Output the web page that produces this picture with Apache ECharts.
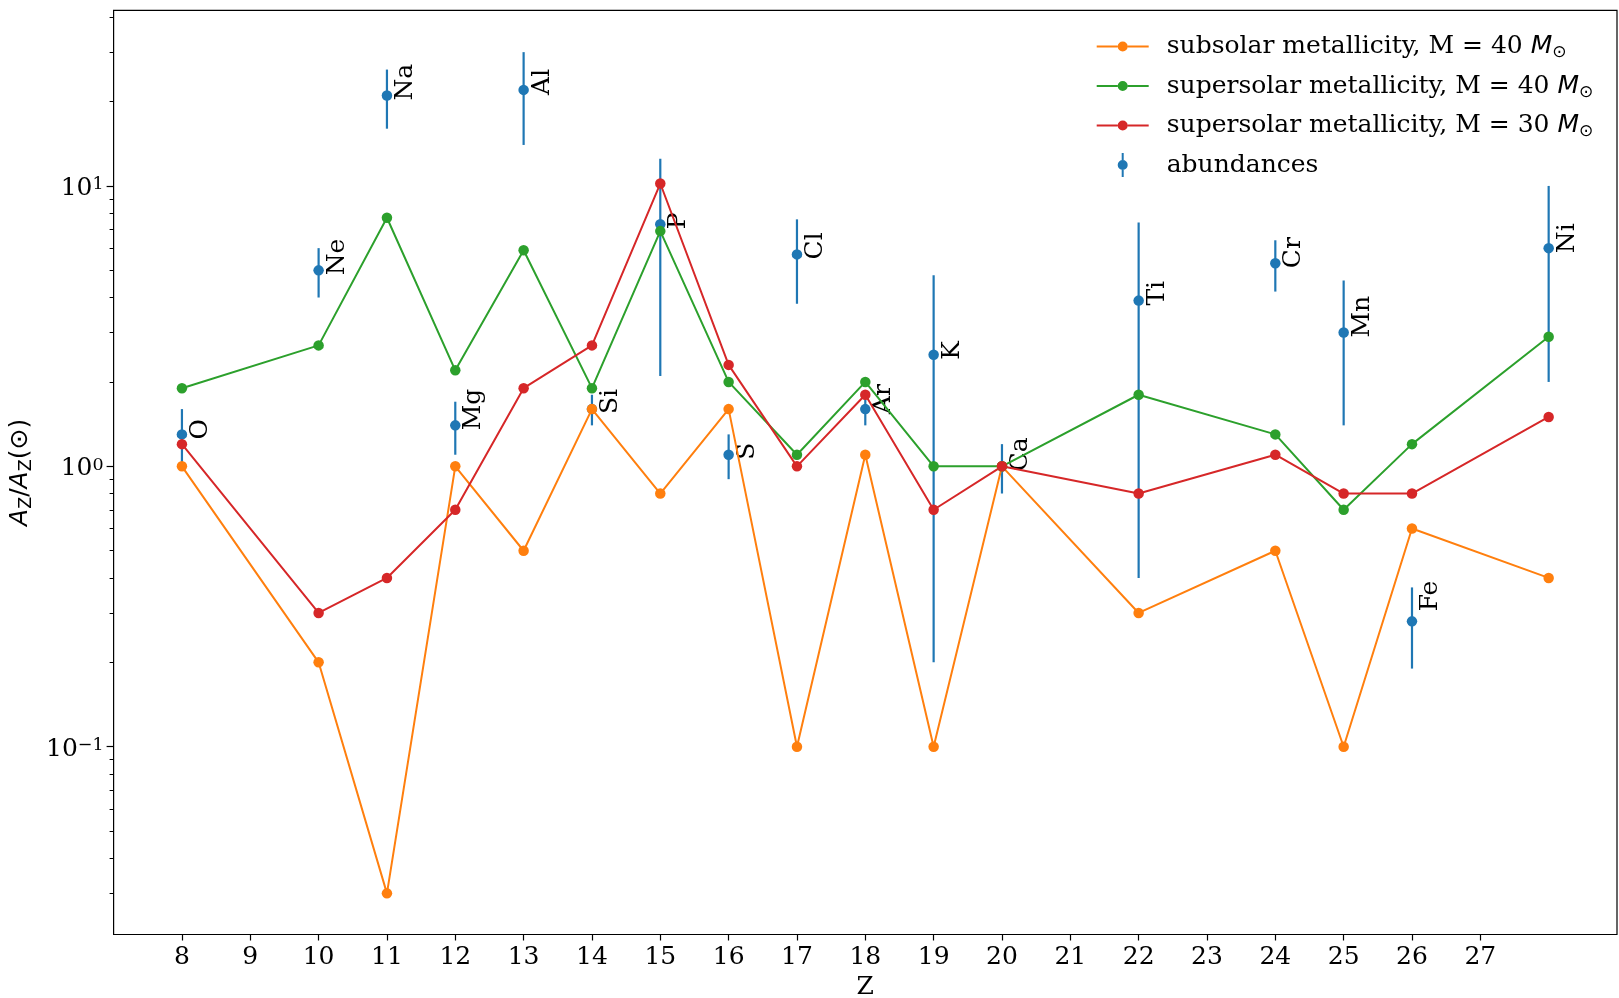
<!DOCTYPE html>
<html><head><meta charset="utf-8">
<script src="https://cdn.jsdelivr.net/npm/echarts@6/dist/echarts.min.js"></script>
<style>html,body{margin:0;padding:0;background:#fff}#c{width:1619px;height:998px}</style>
</head><body><div id="c"></div>
<script>
// ---- data ----
const Z = [8, 10, 11, 12, 13, 14, 15, 16, 17, 18, 19, 20, 22, 24, 25, 26, 28];
const elements = ['O','Ne','Na','Mg','Al','Si','P','S','Cl','Ar','K','Ca','Ti','Cr','Mn','Fe','Ni'];
const subsolar40   = [1.0, 0.2, 0.03, 1.0, 0.5, 1.6, 0.8, 1.6, 0.1, 1.1, 0.1, 1.0, 0.3, 0.5, 0.1, 0.6, 0.4];
const supersolar40 = [1.9, 2.7, 7.7, 2.2, 5.9, 1.9, 6.9, 2.0, 1.1, 2.0, 1.0, 1.0, 1.8, 1.3, 0.7, 1.2, 2.9];
const supersolar30 = [1.2, 0.3, 0.4, 0.7, 1.9, 2.7, 10.2, 2.3, 1.0, 1.8, 0.7, 1.0, 0.8, 1.1, 0.8, 0.8, 1.5];
const abundance    = [1.3, 5.0, 21, 1.4, 22, 1.6, 7.3, 1.1, 5.7, 1.6, 2.5, 1.0, 3.9, 5.3, 3.0, 0.28, 6.0];
const abundanceErr = [0.3, 1.0, 5, 0.3, 8, 0.2, 5.2, 0.2, 1.9, 0.2, 2.3, 0.2, 3.5, 1.1, 1.6, 0.09, 4.0];
const xTickLabels = [8,9,10,11,12,13,14,15,16,17,18,19,20,21,22,23,24,25,26,27];
const yMajorTicks = [0.1, 1, 10];
const yMajorExp = {'0.1': '\u22121', '1': '0', '10': '1'};
const yMinorTicks = [0.03,0.04,0.05,0.06,0.07,0.08,0.09,0.2,0.3,0.4,0.5,0.6,0.7,0.8,0.9,2,3,4,5,6,7,8,9,20,30,40];
const seriesNames = ['subsolar metallicity, M = 40 ', 'supersolar metallicity, M = 40 ', 'supersolar metallicity, M = 30 ', 'abundances'];

// ---- styles ----
const serif = '"DejaVu Serif"';
const sans = '"DejaVu Sans"';
const FS = 25;
const C = {blue:'#1f77b4', orange:'#ff7f0e', green:'#2ca02c', red:'#d62728'};
const YMIN = 0.0214, YMAX = 42.3;
const labelShiftY = {Fe: -15};   // pixel nudge of the Fe label, as in the original

function pairs(arr){ return Z.map((z,i)=>[z, arr[i]]); }

const lineIcon = 'path://M0,4L21,4L21,6L0,6Z M31,4L52,4L52,6L31,6Z M21,5a5,5 0 1,1 10,0a5,5 0 1,1 -10,0Z';
const errIcon  = 'path://M4,0L6,0L6,7L4,7Z M4,17L6,17L6,24L4,24Z M0,12a5,5 0 1,1 10,0a5,5 0 1,1 -10,0Z';

function lineSeries(name, arr, color){
  return {
    type:'line', name: name, data: pairs(arr), xAxisIndex:0, yAxisIndex:0,
    symbol:'circle', symbolSize:10.5, showSymbol:true, showAllSymbol:true,
    itemStyle:{color: color}, lineStyle:{color: color, width:2},
    emphasis:{disabled:true}, animation:false
  };
}

const chart = echarts.init(document.getElementById('c'), null, {renderer:'canvas'});
chart.setOption({
  animation:false,
  backgroundColor:'#fff',
  grid:{left:113.6, right:2, top:10.3, bottom:63.5, outerBoundsMode:'none', containLabel:false,
        show:true, borderColor:'#000', borderWidth:1.2, backgroundColor:'transparent'},
  legend:{
    orient:'vertical', left:1096.7, top:34, padding:0, itemWidth:52, itemHeight:24, itemGap:12,
    selectedMode:false,
    data:[
      {name: seriesNames[0], icon: lineIcon},
      {name: seriesNames[1], icon: lineIcon},
      {name: seriesNames[2], icon: lineIcon},
      {name: seriesNames[3], icon: errIcon}
    ],
    formatter: function(name){
      if (name === 'abundances') return '{t|abundances}';
      return '{t|' + name + '}{m|M}{o|\u2299}';
    },
    textStyle:{
      color:'#000', fontFamily: serif, fontSize:FS, padding:[0,0,0,13],
      rich:{
        t:{fontFamily: serif, fontSize:FS, lineHeight:30, color:'#000'},
        m:{fontFamily: sans, fontStyle:'italic', fontSize:FS, lineHeight:30, color:'#000'},
        o:{fontFamily: sans, fontSize:17, lineHeight:16, verticalAlign:'bottom', color:'#000'}
      }
    }
  },
  xAxis:{
    type:'value', min:7, max:29,
    name:'Z', nameLocation:'middle', nameGap:40,
    nameTextStyle:{fontFamily: serif, fontSize:FS, color:'#000'},
    axisLine:{show:false},
    axisTick:{show:true, customValues: xTickLabels, length:6, lineStyle:{color:'#000', width:1.2}},
    axisLabel:{show:true, customValues: xTickLabels, margin:10, fontFamily: serif, fontSize:FS, color:'#000', formatter: v => String(v)},
    splitLine:{show:false}
  },
  yAxis:[
    {
      type:'log', logBase:10, min:YMIN, max:YMAX, position:'left',
      name:'{i|A}{s|Z}{n|/}{i|A}{s|Z}{n|(\u2299)}', nameLocation:'middle', nameRotate:90, nameGap:74,
      nameTextStyle:{
        color:'#000',
        rich:{
          i:{fontFamily: sans, fontStyle:'italic', fontSize:FS, lineHeight:30, color:'#000'},
          s:{fontFamily: sans, fontSize:17.5, lineHeight:17, verticalAlign:'bottom', color:'#000'},
          n:{fontFamily: sans, fontSize:FS, lineHeight:30, color:'#000'}
        }
      },
      axisLine:{show:false},
      axisTick:{show:true, customValues: yMajorTicks, length:7, lineStyle:{color:'#000', width:1.2}},
      axisLabel:{
        show:true, customValues: yMajorTicks, margin:10, padding:[5,0,0,0],
        formatter: function(v){ const k = String(v); return '{b|10}{p|' + (yMajorExp[k] !== undefined ? yMajorExp[k] : '') + '}'; },
        rich:{
          b:{fontFamily: serif, fontSize:FS, lineHeight:25, color:'#000'},
          p:{fontFamily: serif, fontSize:17.5, lineHeight:17, verticalAlign:'top', color:'#000'}
        }
      },
      splitLine:{show:false}, minorTick:{show:false}
    },
    {
      type:'log', logBase:10, min:YMIN, max:YMAX, position:'left',
      axisLine:{show:false},
      axisTick:{show:true, customValues: yMinorTicks, length:4, lineStyle:{color:'#000', width:1}},
      axisLabel:{show:false},
      splitLine:{show:false}
    }
  ],
  series:[
    lineSeries(seriesNames[0], subsolar40, C.orange),
    lineSeries(seriesNames[1], supersolar40, C.green),
    lineSeries(seriesNames[2], supersolar30, C.red),
    {
      type:'custom', name:'abundance errors', xAxisIndex:0, yAxisIndex:0,
      data: Z.map((z,i)=>[z, abundance[i]-abundanceErr[i], abundance[i]+abundanceErr[i]]),
      encode:{x:0, y:[1,2]},
      renderItem: function(params, api){
        const x = api.value(0);
        const p1 = api.coord([x, api.value(1)]);
        const p2 = api.coord([x, api.value(2)]);
        return {type:'line', shape:{x1:p1[0], y1:p1[1], x2:p2[0], y2:p2[1]}, style:{stroke:C.blue, lineWidth:2.2}};
      },
      silent:true, animation:false
    },
    {
      type:'scatter', name: seriesNames[3], data: pairs(abundance), xAxisIndex:0, yAxisIndex:0,
      symbol:'circle', symbolSize:10.5, itemStyle:{color:C.blue, opacity:1}, emphasis:{disabled:true}, animation:false
    },
    {
      type:'custom', name:'element labels', xAxisIndex:0, yAxisIndex:0,
      data: pairs(abundance),
      renderItem: function(params, api){
        const p = api.coord([api.value(0), api.value(1)]);
        const el = elements[params.dataIndex];
        const dy = 5 + (labelShiftY[el] || 0);
        return {type:'text', x:p[0]+6, y:p[1]+dy, rotation:Math.PI/2,
          style:{text: el, fill:'#000', font:FS + 'px ' + serif, align:'left', verticalAlign:'top'}};
      },
      silent:true, animation:false
    }
  ]
});
</script></body></html>
